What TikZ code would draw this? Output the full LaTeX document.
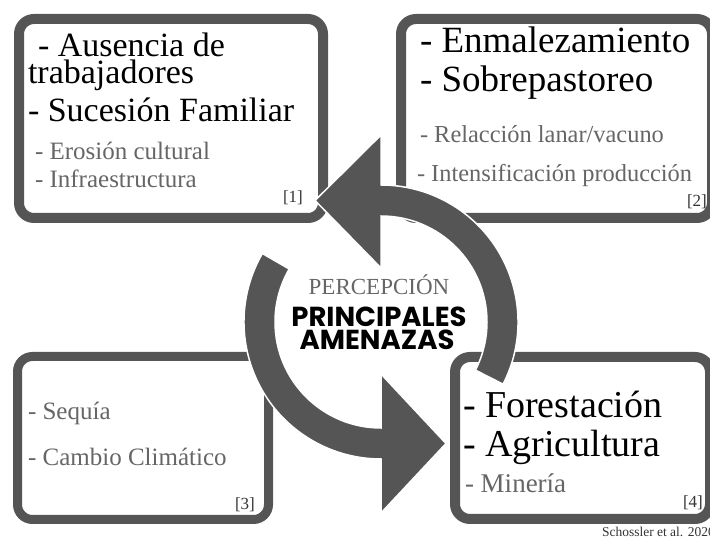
\documentclass[tikz,border=0pt]{standalone}
\usepackage{fontspec}
\setmainfont{Liberation Serif}
\newfontfamily\popfont{Poppins}
\definecolor{bord}{HTML}{555555}
\definecolor{graytxt}{HTML}{666666}
\definecolor{reftxt}{HTML}{333333}
\newcommand{\fsz}[1]{\fontsize{#1}{#1}\selectfont}
\tikzset{
  box/.style={draw=bord, line width=10pt, rounded corners=15pt, fill=white, inner sep=0pt},
  arr/.style={fill=bord, draw=white, line width=1.5pt, line join=miter},
  txt/.style={anchor=base west, inner sep=0pt, outer sep=0pt},
  big/.style={txt, text=black, font=\fsz{34}},
  small/.style={txt, text=graytxt, font=\fsz{25}},
  refl/.style={txt, text=reftxt, font=\fsz{17}},
  centre/.style={anchor=base, inner sep=0pt, text=black, font=\popfont\bfseries\fsz{27.5}},
}
\begin{document}
\begin{tikzpicture}[x=1pt, y=1pt]
\useasboundingbox (0,0) rectangle (710,541);
% boxes
\node[box, minimum width=304pt, minimum height=199pt] (b1) at (171,422.5) {};
\node[box, minimum width=311pt, minimum height=199pt] (b2) at (556.5,422.5) {};
\node[box, line width=9pt, minimum width=251pt, minimum height=163pt] (b3) at (143,103) {};
\node[box, minimum width=255pt, minimum height=162pt] (b4) at (582.5,103) {};
% circular arrows
\path[arr] ([shift={(381,219)}]-27:137pt) arc[start angle=-27, end angle=90, radius=137pt]
  -- (381,406) -- (315,340.5) -- (381,273) -- (381,325)
  arc[start angle=90, end angle=-27, radius=106pt] -- cycle;
\path[arr] ([shift={(381,219)}]150:137pt) arc[start angle=150, end angle=270, radius=137pt]
  -- (381,28) -- (446,97.5) -- (381,167) -- (381,113)
  arc[start angle=270, end angle=150, radius=106pt] -- cycle;
% box 1
\node[big] (t11) at (38,484) {- Ausencia de};
\node[big] (t12) at (28,457) {trabajadores};
\node[big] (t13) at (28,419) {- Sucesión Familiar};
\node[small] (t14) at (35,381) {- Erosión cultural};
\node[small] (t15) at (35,353) {- Infraestructura};
\node[refl] (r1) at (283,338) {[1]};
% box 2
\node[big, font=\fsz{37}] (t21) at (420,488) {- Enmalezamiento};
\node[big, font=\fsz{37}] (t22) at (420,449) {- Sobrepastoreo};
\node[small, font=\fsz{24.4}] (t23) at (420,398) {- Relacción lanar/vacuno};
\node[small, font=\fsz{24.4}] (t24) at (417,359) {- Intensificación producción};
\node[refl] (r2) at (687,334) {[2]};
% box 3
\node[small] (t31) at (28,121) {- Sequía};
\node[small] (t32) at (28,75) {- Cambio Climático};
\node[refl] (r3) at (235,31) {[3]};
% box 4
\node[big, font=\fsz{38}] (t41) at (463,123) {- Forestación};
\node[big, font=\fsz{38}] (t42) at (463,84) {- Agricultura};
\node[small, font=\fsz{27}] (t43) at (465,48) {- Minería};
\node[refl] (r4) at (683,33) {[4]};
% centre
\node[anchor=base, inner sep=0pt, text=graytxt, font=\fsz{23}] (c1) at (379,246) {PERCEPCIÓN};
\node[centre] (c2) at (379,214) {PRINCIPALES};
\node[centre] (c3) at (377,191) {AMENAZAS};
% citation
\node[txt, text=reftxt, font=\fsz{13.5}] (cit) at (602,4) {Schossler et al. 2020};
\end{tikzpicture}
\end{document}
